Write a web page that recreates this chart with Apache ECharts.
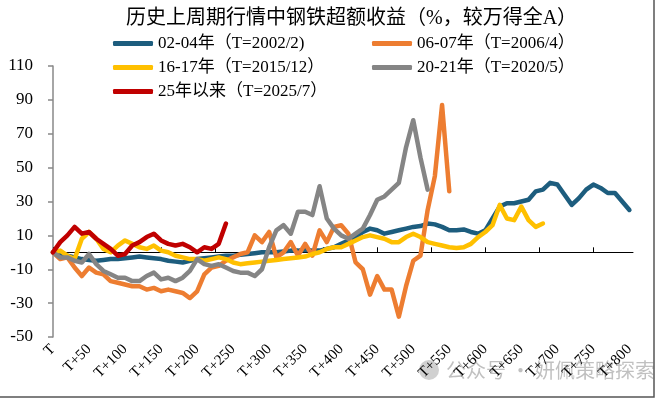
<!DOCTYPE html>
<html>
<head>
<meta charset="utf-8">
<script src="https://cdn.jsdelivr.net/npm/echarts@6/dist/echarts.min.js"></script>
<style>
html, body { margin: 0; padding: 0; background: #fff; }
#chart01 { width: 659px; height: 399px; }
</style>
</head>
<body>
<div id="chart01"></div>
<script>
// 每隔 STEP 个交易日取一个点（T 之后的天数）
var STEP = 10;

var names = ["02-04年（T=2002/2)", "06-07年（T=2006/4）", "16-17年（T=2015/12）", "20-21年（T=2020/5）", "25年以来（T=2025/7）"];
var colors = ["#1d5d7e", "#ed7d31", "#ffc000", "#858585", "#c00000"];

// 超额收益（%）
var s0204 = [0, -1, -2, -3, -4, -4.5, -5, -4.5, -4, -4,
    -3.5, -3, -2.5, -3, -3.5, -4, -5, -5.5, -6, -5,
    -4, -3.5, -3, -2.5, -2, -2, -1.5, -1, -0.5, 0,
    0, 0, 0.5, 1, 1, 1.5, 1, 1, 2, 3,
    5, 7, 9, 12, 14, 13, 11, 12, 13, 14,
    15, 15.5, 17, 16.5, 15, 13, 13, 13.5, 12, 11,
    13, 20, 27, 29, 29, 30, 31, 36, 37, 41,
    40, 34, 28, 32, 37, 40, 38, 35, 35, 30,
    25];
var s0607 = [0, -4, -3, -9, -14, -9, -12, -13, -17, -18,
    -19, -20, -20, -22, -21, -23, -22, -23, -24, -27,
    -23, -13, -9, -8, -5, -3, -1, 0, 10, 6,
    12, -3, 0, 6, -2, 5, -2, 13, 6, 15,
    16, 11, -6, -10, -25, -14, -22, -22, -38, -20,
    -5, -2, 25, 45, 87, 36];
var s1617 = [0, 1, -2, -4, 8, 12, 8, 2, 0, 4,
    7, 5, 3, 2, 4, 1, 0, -2, -3, -4,
    -4, -5, -4, -3, -4, -6, -7, -6.5, -6, -5.5,
    -5, -4.5, -4, -3.5, -3, -2.5, -1, 0, 2, 3,
    3, 5, 7, 9, 10, 9, 8, 6, 6, 9,
    11, 9, 6, 5, 4, 3, 2.5, 3, 5, 9,
    12, 16, 28, 20, 19, 27, 19, 15, 17];
var s2021 = [0, -3, -3, -5, -6, -1, -7, -11, -13, -15,
    -15, -17, -17, -14, -12, -16, -15, -17, -15, -11,
    -4, -7, -8, -7, -9, -11, -12, -12, -14, -10,
    3, 13, 16, 11, 24, 24, 22, 39, 20, 14,
    10, 8, 11, 14, 22, 31, 33, 37, 41, 62,
    78, 56, 37];
var s25 = [0, 6, 10, 15, 11, 12, 8, 5, 2, -2,
    -1, 4, 6, 9, 11, 7, 5, 4, 5, 3,
    0, 3, 2, 5, 17];

var xLabelDays = [0, 50, 100, 150, 200, 250, 300, 350, 400, 450, 500, 550, 600, 650, 700, 750, 800];
var xTickDays = [0, 75, 150, 225, 300, 375, 450, 525, 600, 675, 750];

var FONT = "'Liberation Serif', 'Noto Sans CJK SC', serif";

function toPairs(arr) {
    return arr.map(function (v, i) { return [i * STEP, v]; });
}

var allData = [s0204, s0607, s1617, s2021, s25];
var legendPos = [[113, 35], [372, 35], [113, 59], [372, 59], [113, 83]];

var myChart01 = echarts.init(document.getElementById('chart01'));
var option = {
    animation: false,
    backgroundColor: "#fff",
    title: {
        text: "历史上周期行情中钢铁超额收益（%，较万得全A）",
        left: 126,
        top: 9,
        padding: 0,
        textStyle: { fontFamily: FONT, fontSize: 20, fontWeight: "normal", color: "#000" }
    },
    legend: names.map(function (n, i) {
        return {
            data: [n],
            left: legendPos[i][0],
            top: legendPos[i][1],
            padding: 0,
            icon: "roundRect",
            itemWidth: 40,
            itemHeight: 5,
            textStyle: { fontFamily: FONT, fontSize: 17, color: "#000" }
        };
    }),
    grid: { left: 53, right: 26, top: 66, bottom: 62, containLabel: false },
    xAxis: [
        {
            type: "value",
            min: 0,
            max: 805,
            axisLine: { onZero: true, lineStyle: { color: "#000", width: 1 } },
            axisTick: { inside: true, length: 5, customValues: xTickDays, lineStyle: { color: "#000" } },
            axisLabel: { show: false },
            splitLine: { show: false }
        },
        {
            type: "value",
            min: 0,
            max: 805,
            position: "bottom",
            axisLine: { show: false, onZero: false },
            axisTick: { show: false },
            axisLabel: {
                customValues: xLabelDays,
                rotate: 45,
                margin: 10,
                fontFamily: FONT,
                fontSize: 15,
                color: "#000",
                formatter: function (v) { return v === 0 ? "T" : "T+" + v; }
            },
            splitLine: { show: false }
        }
    ],
    yAxis: {
        type: "value",
        min: -50,
        max: 110,
        interval: 20,
        axisLine: { show: true, lineStyle: { color: "#888", width: 1.5 } },
        axisTick: { show: true, length: 5, lineStyle: { color: "#888", width: 1.5 } },
        axisLabel: { margin: 20, fontFamily: FONT, fontSize: 17, color: "#000" },
        splitLine: { show: false }
    },
    graphic: [
        {
            type: "circle",
            shape: { cx: 429, cy: 370, r: 10 },
            style: { fill: "rgba(150,150,150,0.45)" }
        },
        {
            type: "text",
            left: 446,
            top: 360,
            style: {
                text: "公众号 · 妍佩策略探索",
                font: "20px 'Noto Sans CJK SC'",
                fill: "rgba(140,140,140,0.55)"
            }
        },
        {
            type: "polyline",
            shape: { points: [[654, 0], [654, 397], [0, 397]] },
            style: { stroke: "#555", lineWidth: 1.5, fill: null }
        }
    ],
    series: allData.map(function (d, i) {
        return {
            name: names[i],
            type: "line",
            xAxisIndex: 0,
            data: toPairs(d),
            showSymbol: false,
            symbol: "none",
            color: colors[i],
            lineStyle: { width: 4.5, color: colors[i], cap: "round", join: "round" }
        };
    })
};
myChart01.setOption(option);
</script>
</body>
</html>
